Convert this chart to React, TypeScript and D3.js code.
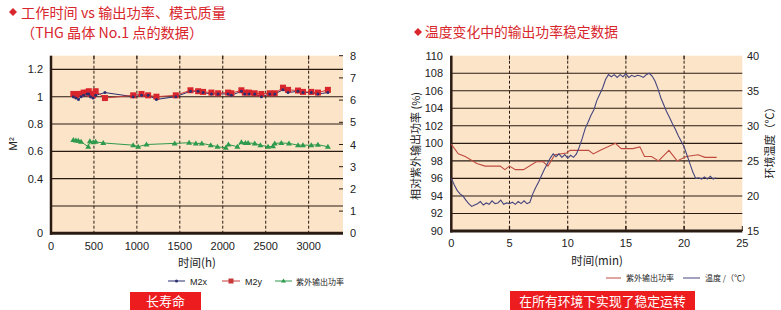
import React from "react";
import * as d3 from "d3";

// ---------- Left chart data ----------
const hoursM2 = [260, 290, 320, 350, 380, 420, 440, 460, 490, 520, 628, 957, 1054, 1131, 1228, 1453, 1624, 1713, 1771, 1868, 1946, 2062, 2100, 2217, 2256, 2306, 2372, 2450, 2547, 2605, 2701, 2760, 2876, 2934, 3031, 3108, 3224];
const m2x = [1.0, 0.99, 0.98, 1.0, 1.01, 1.02, 1.02, 1.0, 0.99, 1.01, 1.03, 1.0, 1.01, 1.01, 0.98, 1.0, 1.04, 1.04, 1.03, 1.02, 1.02, 1.02, 1.01, 1.04, 1.02, 1.02, 1.02, 1.0, 1.02, 1.02, 1.05, 1.03, 1.04, 1.03, 1.03, 1.02, 1.03];
const m2y = [1.02, 1.01, 1.02, 1.02, 1.03, 1.03, 1.04, 1.02, 1.01, 1.04, 0.99, 1.01, 1.02, 1.01, 1.0, 1.01, 1.047, 1.04, 1.035, 1.03, 1.025, 1.03, 1.025, 1.047, 1.03, 1.03, 1.025, 1.02, 1.025, 1.025, 1.066, 1.05, 1.045, 1.035, 1.035, 1.03, 1.05];
const hoursUV = [260, 290, 318, 350, 434, 453, 492, 520, 608, 957, 1015, 1112, 1440, 1608, 1686, 1756, 1860, 1938, 2035, 2066, 2170, 2217, 2264, 2295, 2372, 2438, 2527, 2585, 2605, 2682, 2771, 2876, 2934, 3031, 3108, 3224];
const uvPower = [4.2, 4.18, 4.17, 4.12, 3.9, 4.15, 4.1, 4.12, 4.07, 3.97, 3.9, 4.0, 4.05, 4.08, 4.05, 4.05, 3.97, 3.9, 3.85, 4.0, 3.9, 4.1, 4.07, 4.07, 4.05, 3.97, 3.9, 3.92, 4.05, 4.07, 4.05, 3.97, 3.97, 3.97, 3.99, 3.9];
const hourTicks = [0, 500, 1000, 1500, 2000, 2500, 3000];
const m2Ticks = [0, 0.4, 0.6, 0.8, 1, 1.2];
const m2Grid = [0.2, 0.4, 0.6, 0.8, 1, 1.2];
const uvTicks = [0, 1, 2, 3, 4, 5, 6, 7, 8];

// ---------- Right chart data ----------
const powerTime = [0, 0.6, 1.2, 2.2, 2.9, 4.2, 4.6, 5.0, 5.5, 6.2, 7.3, 7.9, 8.3, 8.9, 9.9, 10.2, 11.8, 12.2, 12.8, 14.1, 14.6, 15.6, 16.2, 16.6, 17.2, 17.8, 18.7, 19.4, 20.2, 21.2, 21.8, 22.8];
const powerValue = [99.9, 98.8, 98.5, 97.7, 97.4, 97.4, 97.0, 97.4, 97.0, 97.0, 97.9, 97.9, 97.4, 98.7, 98.9, 99.2, 99.2, 98.8, 99.2, 100.0, 99.4, 99.4, 99.6, 98.5, 98.5, 98.0, 99.2, 98.0, 98.5, 98.7, 98.4, 98.4];
const tempTime = [0, 0.25, 0.5, 0.75, 1.0, 1.25, 1.5, 1.75, 2.0, 2.25, 2.5, 2.75, 3.0, 3.25, 3.5, 3.75, 4.0, 4.25, 4.5, 4.75, 5.0, 5.25, 5.5, 5.75, 6.0, 6.25, 6.5, 6.75, 7.0, 7.25, 7.5, 7.75, 8.0, 8.25, 8.5, 8.75, 9.0, 9.25, 9.5, 9.75, 10.0, 10.25, 10.5, 10.75, 11.0, 11.25, 11.5, 11.75, 12.0, 12.25, 12.5, 12.75, 13.0, 13.25, 13.5, 13.75, 14.0, 14.25, 14.5, 14.75, 15.0, 15.25, 15.5, 15.75, 16.0, 16.25, 16.5, 16.75, 17.0, 17.25, 17.5, 17.75, 18.0, 18.25, 18.5, 18.75, 19.0, 19.25, 19.5, 19.75, 20.0, 20.25, 20.5, 20.75, 21.0, 21.25, 21.5, 21.75, 22.0, 22.25, 22.5, 22.75];
const tempValue = [22.5, 21.6, 20.8, 20.3, 20.0, 19.4, 18.9, 18.5, 18.7, 18.9, 19.2, 18.7, 19.0, 18.8, 19.3, 18.9, 19.0, 19.4, 18.8, 19.0, 18.9, 19.1, 18.8, 19.2, 18.9, 19.3, 18.9, 19.1, 20.3, 21.2, 22.0, 22.9, 23.8, 24.6, 25.4, 26.0, 25.6, 26.0, 25.5, 25.9, 25.4, 25.8, 25.5, 26.0, 27.0, 28.2, 29.6, 30.5, 31.5, 32.3, 33.6, 34.5, 35.4, 36.6, 37.3, 37.0, 37.3, 36.9, 37.3, 37.0, 37.4, 36.9, 37.2, 37.0, 37.2, 37.1, 36.9, 37.3, 37.5, 37.1, 36.4, 35.3, 34.0, 33.0, 32.0, 31.2, 30.3, 29.5, 28.6, 27.8, 27.0, 25.8, 24.6, 23.4, 22.5, 22.6, 22.4, 22.7, 22.4, 22.8, 22.4, 22.6];
const minTicks = [0, 5, 10, 15, 20, 25];
const pctTicks = [90, 92, 94, 96, 98, 100, 102, 104, 106, 108, 110];
const tempTicks = [15, 20, 25, 30, 35, 40];

const BG = "#fce4c8";
const DARK = "#2a1b12";
const RED = "#d8262c";
const FONT = "'Liberation Sans', Arial, 'Noto Sans CJK SC', sans-serif";
const CJK = "'Noto Sans CJK SC', 'Liberation Sans', sans-serif";

function Diamond({ x, y }: { x: number; y: number }) {
  return <path d={`M${x},${y - 4}L${x + 4},${y}L${x},${y + 4}L${x - 4},${y}Z`} fill={RED} />;
}

export default function App() {
  // left chart scales
  const xL = d3.scaleLinear().domain([0, 3400]).range([51, 343]);
  const yL = d3.scaleLinear().domain([0, 1.3]).range([233.3, 55.7]);
  const yU = d3.scaleLinear().domain([0, 8]).range([233.3, 55.7]);
  // right chart scales
  const xR = d3.scaleLinear().domain([0, 25]).range([451.3, 742.3]);
  const yP = d3.scaleLinear().domain([90, 110]).range([231, 55.7]);
  const yT = d3.scaleLinear().domain([15, 40]).range([231, 55.7]);

  const lineM2x = d3.line<number>().x((_, i) => xL(hoursM2[i])).y((d) => yL(d));
  const lineM2y = d3.line<number>().x((_, i) => xL(hoursM2[i])).y((d) => yL(d));
  const lineUV = d3.line<number>().x((_, i) => xL(hoursUV[i])).y((d) => yU(d));
  const linePow = d3.line<number>().x((_, i) => xR(powerTime[i])).y((d) => yP(d));
  const lineTemp = d3.line<number>().x((_, i) => xR(tempTime[i])).y((d) => yT(d));

  const [l0, l1] = xL.range();
  const [r0, r1] = xR.range();

  return (
    <svg width={781} height={310} style={{ position: "absolute", left: 0, top: 0, background: "#fff" }} fontFamily={FONT}>
      {/* ---------------- LEFT CHART ---------------- */}
      <Diamond x={13} y={12} />
      <text x={21} y={17.5} fontSize={14.2} fill={RED} fontFamily={CJK}>工作时间 vs 输出功率、模式质量</text>
      <text x={21} y={38} fontSize={14.2} fill={RED} fontFamily={CJK}>（THG 晶体 No.1 点的数据）</text>

      <rect x={l0} y={yL.range()[1]} width={l1 - l0} height={yL.range()[0] - yL.range()[1]} fill={BG} />
      {m2Grid.map((v) => (
        <line key={"lg" + v} x1={l0} x2={l1} y1={yL(v)} y2={yL(v)} stroke={DARK} strokeWidth={1.1} />
      ))}
      {hourTicks.filter((t) => t > 0).map((t) => (
        <g key={"lv" + t}>
          <line x1={xL(t)} x2={xL(t)} y1={yL.range()[1]} y2={yL.range()[0]} stroke={DARK} strokeWidth={1} strokeDasharray="3,2" />
          <line x1={xL(t)} x2={xL(t)} y1={yL.range()[1]} y2={yL.range()[1] + 4} stroke={DARK} strokeWidth={1} />
        </g>
      ))}
      {uvTicks.map((v) => (
        <line key={"ut" + v} x1={l1 - 4} x2={l1} y1={yU(v)} y2={yU(v)} stroke={DARK} strokeWidth={1} />
      ))}
      <line x1={l0} x2={l0} y1={yL.range()[1]} y2={yL.range()[0] + 1.5} stroke={DARK} strokeWidth={2.5} />
      <line x1={l0 - 1} x2={l1} y1={yL.range()[0]} y2={yL.range()[0]} stroke={DARK} strokeWidth={3} />

      {/* series */}
      <path d={lineUV(uvPower) || ""} fill="none" stroke="#2e9a4c" strokeWidth={1} />
      {uvPower.map((v, i) => {
        const x = xL(hoursUV[i]);
        const y = yU(v);
        return <path key={"uvm" + i} d={`M${x},${y - 3}L${x + 3},${y + 2}L${x - 3},${y + 2}Z`} fill="#2e9a4c" />;
      })}
      <path d={lineM2x(m2x) || ""} fill="none" stroke="#2b2f70" strokeWidth={1} />
      <path d={lineM2y(m2y) || ""} fill="none" stroke="#c83a3a" strokeWidth={1} />
      {m2y.map((v, i) => (
        <rect key={"m2y" + i} x={xL(hoursM2[i]) - 3} y={yL(v) - 3} width={6} height={6} fill="#d8262c" />
      ))}
      {m2x.map((v, i) => (
        <circle key={"m2x" + i} cx={xL(hoursM2[i])} cy={yL(v)} r={1.5} fill="#2b2f70" />
      ))}

      {/* left axis labels */}
      {m2Ticks.map((v) => (
        <text key={"lt" + v} x={43} y={yL(v) + 4} fontSize={11} textAnchor="end" fill="#222">{v}</text>
      ))}
      {uvTicks.map((v) => (
        <text key={"ur" + v} x={350} y={yU(v) + 4} fontSize={11} fill="#222">{v}</text>
      ))}
      {hourTicks.map((t) => (
        <text key={"ht" + t} x={xL(t)} y={250} fontSize={11} textAnchor="middle" fill="#222">{t}</text>
      ))}
      <text transform="translate(17,144) rotate(-90)" fontSize={11.5} textAnchor="middle" fill="#222">M²</text>
      <text x={197} y={267} fontSize={11.5} textAnchor="middle" fill="#222" fontFamily={CJK}>时间(h)</text>

      {/* left legend */}
      <g fontSize={9} fill="#222">
        <line x1={168} x2={185} y1={281} y2={281} stroke="#2b2f70" strokeWidth={1} />
        <circle cx={176.5} cy={281} r={1.5} fill="#2b2f70" />
        <text x={190} y={284.5}>M2x</text>
        <line x1={222} x2={240} y1={281} y2={281} stroke="#c83a3a" strokeWidth={1} />
        <rect x={228.5} y={278.5} width={5} height={5} fill="#c83a3a" />
        <text x={245} y={284.5}>M2y</text>
        <line x1={275} x2={292} y1={281} y2={281} stroke="#2e9a4c" strokeWidth={1} />
        <path d="M283.5,278.5L286,282.5L281,282.5Z" fill="#2e9a4c" />
        <text x={296} y={284.5} fontFamily={CJK} fontSize={8}>紫外输出功率</text>
      </g>

      <rect x={130} y={292} width={71} height={18} fill="#ec1c1f" />
      <text x={165.5} y={306} fontSize={13} textAnchor="middle" fill="#fff" fontFamily={CJK}>长寿命</text>

      {/* ---------------- RIGHT CHART ---------------- */}
      <Diamond x={418} y={32} />
      <text x={425} y={37} fontSize={13.8} fill={RED} fontFamily={CJK}>温度变化中的输出功率稳定数据</text>

      <rect x={r0} y={yP.range()[1]} width={r1 - r0} height={yP.range()[0] - yP.range()[1]} fill={BG} />
      {pctTicks.filter((v) => v > 90 && v < 110).map((v) => (
        <line key={"pg" + v} x1={r0} x2={r1} y1={yP(v)} y2={yP(v)} stroke={DARK} strokeWidth={1.1} />
      ))}
      {minTicks.filter((t) => t > 0 && t < 25).map((t) => (
        <g key={"rv" + t}>
          <line x1={xR(t)} x2={xR(t)} y1={yP.range()[1]} y2={yP.range()[0]} stroke={DARK} strokeWidth={1} strokeDasharray="3,2" />
          <line x1={xR(t)} x2={xR(t)} y1={yP.range()[1]} y2={yP.range()[1] + 4} stroke={DARK} strokeWidth={1} />
          <line x1={xR(t)} x2={xR(t)} y1={yP.range()[0] - 5} y2={yP.range()[0]} stroke={DARK} strokeWidth={1.3} />
        </g>
      ))}
      <line x1={r1} x2={r1} y1={yT(15) - 5} y2={yT(15)} stroke={DARK} strokeWidth={1} />
      <line x1={r0} x2={r0} y1={yP.range()[1]} y2={yP.range()[0] + 1.5} stroke={DARK} strokeWidth={2.5} />
      <line x1={r0 - 1} x2={r1} y1={yP.range()[0]} y2={yP.range()[0]} stroke={DARK} strokeWidth={3} />

      <path d={linePow(powerValue) || ""} fill="none" stroke="#bf4a3e" strokeWidth={1.1} />
      <path d={lineTemp(tempValue) || ""} fill="none" stroke="#46467f" strokeWidth={1.1} />

      {pctTicks.map((v) => (
        <text key={"pt" + v} x={443} y={yP(v) + 4} fontSize={11} textAnchor="end" fill="#222">{v}</text>
      ))}
      {tempTicks.map((v) => (
        <text key={"tt" + v} x={747} y={yT(v) + 4} fontSize={11} fill="#222">{v}</text>
      ))}
      {minTicks.map((t) => (
        <text key={"mt" + t} x={xR(t)} y={247} fontSize={11} textAnchor="middle" fill="#222">{t}</text>
      ))}
      <text transform="translate(420,146) rotate(-90)" fontSize={11} textAnchor="middle" fill="#222" fontFamily={CJK}>相对紫外输出功率 (%)</text>
      <text transform="translate(774,140) rotate(-90)" fontSize={11} textAnchor="middle" fill="#222" fontFamily={CJK}>环境温度（℃）</text>
      <text x={597} y={265} fontSize={11.5} textAnchor="middle" fill="#222" fontFamily={CJK}>时间(min)</text>

      <g fontSize={8} fill="#222" fontFamily={CJK}>
        <line x1={606} x2={621} y1={278} y2={278} stroke="#bf4a3e" strokeWidth={1} />
        <text x={626} y={281}>紫外输出功率</text>
        <line x1={683} x2={700} y1={278} y2={278} stroke="#46467f" strokeWidth={1} />
        <text x={705} y={281}>温度 /（℃）</text>
      </g>

      <rect x={510} y={291} width={185} height={19} fill="#ec1c1f" />
      <text x={602.5} y={305.5} fontSize={12.8} textAnchor="middle" fill="#fff" fontFamily={CJK}>在所有环境下实现了稳定运转</text>
    </svg>
  );
}
